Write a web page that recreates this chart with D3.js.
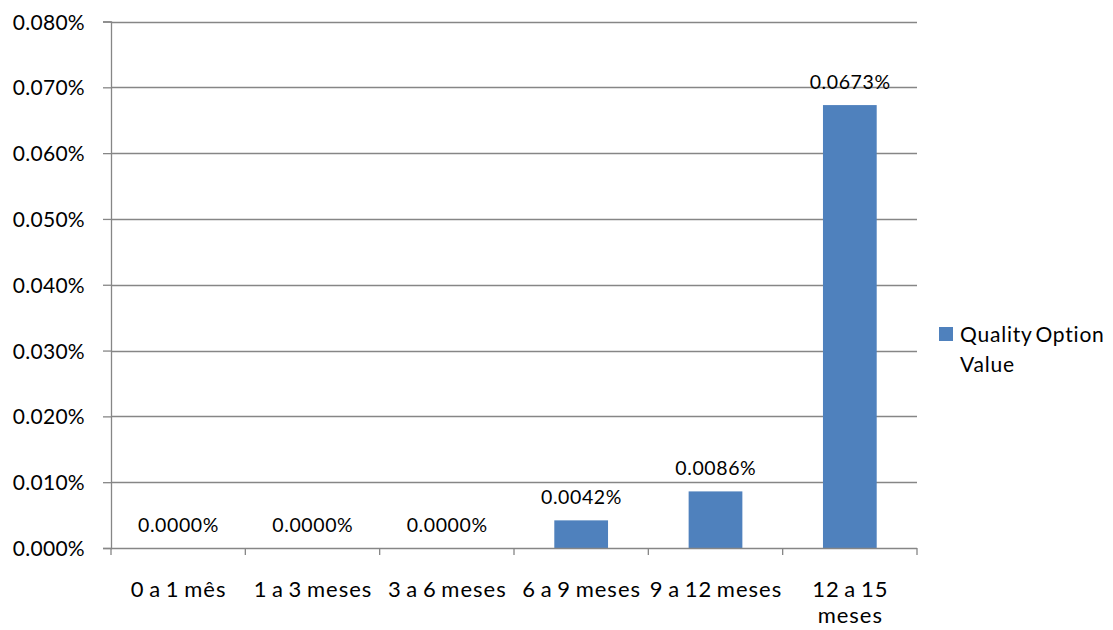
<!DOCTYPE html>
<html>
<head>
<meta charset="utf-8">
<script src="https://cdn.jsdelivr.net/npm/d3@7"></script>
<style>
  html, body { margin: 0; padding: 0; background: #fff; }
  svg { display: block; font-family: Lato, "Open Sans", sans-serif; }
</style>
</head>
<body>
<svg id="chart" width="1113" height="630"></svg>
<script>
// Quality option value by maturity bucket (percent)
const categories = ["0 a 1 mês", "1 a 3 meses", "3 a 6 meses", "6 a 9 meses", "9 a 12 meses", "12 a 15\nmeses"];
const values = [0.0000, 0.0000, 0.0000, 0.0042, 0.0086, 0.0673];
const yTicks = [0, 0.01, 0.02, 0.03, 0.04, 0.05, 0.06, 0.07, 0.08];
const seriesName = ["Quality Option", "Value"];

const svg = d3.select("#chart");
const plot = { left: 111, right: 917, top: 21.5, bottom: 548 };
const barColor = "#4F81BD";
const gridColor = "#868686";

const x = d3.scaleBand().domain(categories).range([plot.left, plot.right]).paddingInner(0.6).paddingOuter(0.3);
const y = d3.scaleLinear().domain([0, 0.08]).range([plot.bottom, plot.top]);

// horizontal gridlines
svg.append("g")
  .selectAll("line")
  .data(yTicks.slice(1))
  .join("line")
  .attr("x1", plot.left).attr("x2", plot.right)
  .attr("y1", d => Math.round(y(d)) + 0.5).attr("y2", d => Math.round(y(d)) + 0.5)
  .attr("stroke", gridColor).attr("stroke-width", 1.3);

// y axis
const yAxis = svg.append("g")
  .attr("transform", `translate(${plot.left},0)`)
  .call(d3.axisLeft(y).tickValues(yTicks).tickSize(8).tickPadding(18)
    .tickFormat(d => d3.format(".3f")(d) + "%"));
yAxis.select(".domain").attr("stroke", gridColor).attr("stroke-width", 1.3);
yAxis.selectAll(".tick line").attr("stroke", gridColor).attr("stroke-width", 1.3);
yAxis.selectAll(".tick text").attr("font-size", 21).attr("fill", "#000")
  .attr("font-family", "Lato, sans-serif").attr("dy", "0.36em")
  .attr("letter-spacing", 0.3);

// bars
svg.append("g")
  .selectAll("rect")
  .data(values)
  .join("rect")
  .attr("x", (d, i) => x(categories[i]))
  .attr("width", x.bandwidth())
  .attr("y", d => y(d))
  .attr("height", d => y(0) - y(d))
  .attr("fill", barColor);

// x axis with ticks at band boundaries
const xBounds = categories.map(c => x(c) - x.step() * x.paddingInner() / 2).concat([plot.right]);
svg.append("line")
  .attr("x1", plot.left).attr("x2", plot.right).attr("y1", plot.bottom + 0.5).attr("y2", plot.bottom + 0.5)
  .attr("stroke", gridColor).attr("stroke-width", 1.3);
svg.append("g")
  .selectAll("line")
  .data(xBounds)
  .join("line")
  .attr("x1", d => d).attr("x2", d => d)
  .attr("y1", plot.bottom).attr("y2", plot.bottom + 7)
  .attr("stroke", gridColor).attr("stroke-width", 1.3);

// category labels
const catSpacing = 1;
svg.append("g")
  .selectAll("text")
  .data(categories)
  .join("text")
  .attr("y", 597)
  .attr("text-anchor", "middle")
  .attr("font-size", 22)
  .attr("letter-spacing", catSpacing)
  .attr("word-spacing", -2)
  .attr("fill", "#000")
  .each(function (d) {
    const t = d3.select(this);
    const cx = x(d) + x.bandwidth() / 2 + catSpacing / 2;
    d.split("\n").forEach((line, k) => {
      t.append("tspan").attr("x", cx).attr("dy", k === 0 ? 0 : 26).text(line);
    });
  });

// value labels
const valSpacing = 0.6;
svg.append("g")
  .selectAll("text")
  .data(values)
  .join("text")
  .attr("x", (d, i) => x(categories[i]) + x.bandwidth() / 2 + valSpacing / 2)
  .attr("y", d => y(d) - 16)
  .attr("text-anchor", "middle")
  .attr("font-size", 19.5)
  .attr("letter-spacing", valSpacing)
  .attr("fill", "#000")
  .text(d => d3.format(".4f")(d) + "%");

// legend
const lg = svg.append("g");
lg.append("rect").attr("x", 939).attr("y", 327).attr("width", 14).attr("height", 14).attr("fill", barColor);
lg.selectAll("text")
  .data(seriesName)
  .join("text")
  .attr("x", 960)
  .attr("y", (d, i) => 342 + i * 30)
  .attr("font-size", 21)
  .attr("letter-spacing", 0.8)
  .attr("word-spacing", -3)
  .attr("fill", "#000")
  .text(d => d);
</script>
</body>
</html>
